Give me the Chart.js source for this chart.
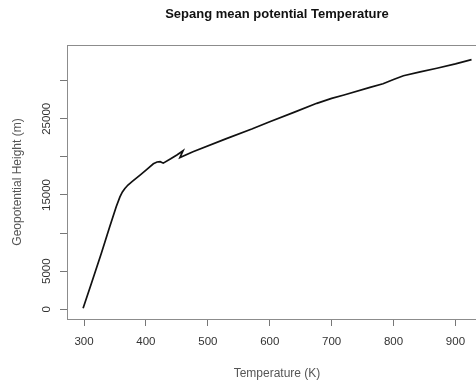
<!DOCTYPE html>
<html>
<head>
<meta charset="utf-8">
<script src="https://cdn.jsdelivr.net/npm/chart.js@4.4.0/dist/chart.umd.min.js"></script>
<style>
  html, body { margin: 0; padding: 0; background: #fff; overflow: hidden; }
  #wrap { width: 476px; height: 385px; overflow: hidden; }
</style>
</head>
<body>
<div id="wrap"><canvas id="tempChart" width="500" height="385"></canvas></div>
<script>
  // values
  const temperature = [298.5, 312, 328, 341.5, 352, 358, 362, 366, 371, 378, 384, 391, 402, 412, 418, 423, 428, 440, 450, 460, 455, 476, 530, 571, 600, 640, 676, 700, 720, 762, 783, 800, 816, 843, 870, 900, 926];
  const height = [130, 3410, 7350, 10840, 13470, 14750, 15400, 15850, 16310, 16800, 17190, 17650, 18400, 19100, 19330, 19370, 19180, 19750, 20250, 20810, 19920, 20680, 22400, 23660, 24620, 25880, 27030, 27680, 28120, 29120, 29600, 30150, 30650, 31150, 31630, 32200, 32760];

  const xTicks = [300, 400, 500, 600, 700, 800, 900];
  const yTicks = [0, 5000, 10000, 15000, 20000, 25000, 30000];
  const yTickLabels = [0, 5000, 15000, 25000];

  const font = 'Liberation Sans, Arial, sans-serif';

  // box round the plot region + vertical y tick labels like R
  const rBox = {
    id: 'rBox',
    afterDraw(chart) {
      const { ctx, chartArea: a } = chart;
      ctx.save();
      ctx.strokeStyle = '#8c8c8c';
      ctx.lineWidth = 1;
      ctx.strokeRect(Math.round(a.left) + 0.5, Math.round(a.top) + 0.5, Math.round(a.right - a.left), Math.round(a.bottom - a.top));
      const ys = chart.scales.y;
      ctx.fillStyle = '#333';
      ctx.font = '11.5px ' + font;
      ctx.textAlign = 'center';
      ctx.textBaseline = 'middle';
      yTickLabels.forEach(v => {
        ctx.save();
        ctx.translate(47, ys.getPixelForValue(v));
        ctx.rotate(-Math.PI / 2);
        ctx.fillText(String(v), 0, 0);
        ctx.restore();
      });
      ctx.restore();
    }
  };

  const ctx = document.getElementById('tempChart').getContext('2d');

  new Chart(ctx, {
    type: 'line',
    data: {
      datasets: [{
        data: temperature.map((t, i) => ({ x: t, y: height[i] })),
        borderColor: '#111',
        borderWidth: 1.7,
        pointRadius: 0,
        tension: 0,
        fill: false
      }]
    },
    options: {
      responsive: false,
      animation: false,
      layout: { padding: { left: 0, right: 13, top: 0, bottom: 0 } },
      plugins: {
        legend: { display: false },
        tooltip: { enabled: false },
        title: {
          display: true,
          text: 'Sepang mean potential Temperature',
          fullSize: false,
          color: '#111',
          font: { family: font, size: 13, weight: 'bold', lineHeight: 1.2 },
          padding: { top: 7, bottom: 22.4 }
        }
      },
      scales: {
        x: {
          type: 'linear',
          min: 272.5,
          max: 951,
          afterBuildTicks: s => { s.ticks = xTicks.map(v => ({ value: v })); },
          afterFit: s => { s.height = 66; },
          ticks: { color: '#333', font: { family: font, size: 11.5 }, padding: 9, maxRotation: 0, autoSkip: false },
          grid: { drawOnChartArea: false, tickLength: 7, tickColor: '#777' },
          border: { display: false },
          title: { display: true, text: 'Temperature (K)', color: '#555', font: { family: font, size: 12, lineHeight: 1.2 }, padding: { top: 0, bottom: 4.4 } }
        },
        y: {
          type: 'linear',
          min: -1273,
          max: 34685,
          afterBuildTicks: s => { s.ticks = yTicks.map(v => ({ value: v })); },
          afterFit: s => { s.width = 67; },
          ticks: { display: false },
          grid: { drawOnChartArea: false, tickLength: 7, tickColor: '#777' },
          border: { display: false },
          title: { display: true, text: 'Geopotential Height (m)', color: '#555', font: { family: font, size: 12, lineHeight: 1.2 }, padding: { top: 10.4, bottom: 0 } }
        }
      }
    },
    plugins: [rBox]
  });
</script>
</body>
</html>
